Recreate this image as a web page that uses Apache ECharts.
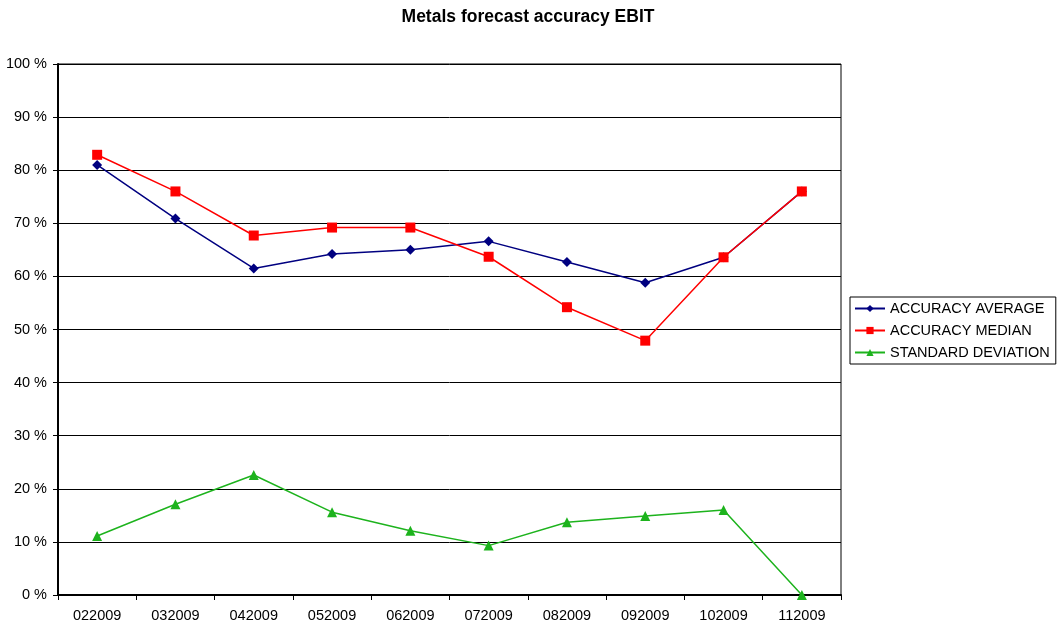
<!DOCTYPE html>
<html>
<head>
<meta charset="utf-8">
<script src="https://cdn.jsdelivr.net/npm/echarts@6/dist/echarts.min.js"></script>
<style>
html, body { margin: 0; padding: 0; background: #fff; }
#chart { width: 1060px; height: 629px; }
</style>
</head>
<body>
<div id="chart"></div>
<script>
// Monthly periods (MMYYYY)
const periods = ['022009', '032009', '042009', '052009', '062009', '072009', '082009', '092009', '102009', '112009'];
// Forecast accuracy figures, in percent
const accuracyAverage = [81.0, 70.9, 61.5, 64.2, 65.0, 66.6, 62.7, 58.8, 63.6, 76.0];
const accuracyMedian = [82.9, 76.0, 67.7, 69.2, 69.2, 63.7, 54.2, 47.9, 63.6, 76.0];
const standardDeviation = [11.1, 17.1, 22.6, 15.6, 12.1, 9.3, 13.7, 14.9, 16.0, 0.0];

const seriesNames = ['ACCURACY AVERAGE', 'ACCURACY MEDIAN', 'STANDARD DEVIATION'];
const font = 'Liberation Sans, Arial, sans-serif';

const chart = echarts.init(document.getElementById('chart'), null, { renderer: 'canvas' });

function lineSeries(name, data, color, symbol, size) {
  return {
    name: name,
    type: 'line',
    data: data,
    symbol: symbol,
    symbolSize: size,
    showAllSymbol: true,
    lineStyle: { color: color, width: 1.5 },
    itemStyle: { color: color },
    emphasis: { disabled: true },
    animation: false
  };
}

chart.setOption({
  animation: false,
  backgroundColor: '#fff',
  title: {
    text: 'Metals forecast accuracy EBIT',
    left: 523,
    textAlign: 'center',
    top: 3,
    textStyle: { fontFamily: font, fontSize: 17.5, fontWeight: 'bold', color: '#000' }
  },
  legend: {
    orient: 'vertical',
    left: 850,
    top: 297,
    itemWidth: 30,
    itemHeight: 9,
    itemGap: 7,
    padding: [4, 6, 4, 4],
    borderColor: '#000',
    borderWidth: 1,
    borderRadius: 0,
    textStyle: { fontFamily: font, fontSize: 14.5, color: '#000' },
    data: seriesNames
  },
  grid: { left: 58, right: 219, top: 64, bottom: 34, show: true, borderColor: '#000', borderWidth: 1 },
  xAxis: {
    type: 'category',
    data: periods,
    boundaryGap: true,
    axisLine: { lineStyle: { color: '#000', width: 2 } },
    axisTick: { show: true, alignWithLabel: false, length: 5, lineStyle: { color: '#000' } },
    axisLabel: { fontFamily: font, fontSize: 14.5, color: '#000', margin: 13 },
    splitLine: { show: false }
  },
  yAxis: {
    type: 'value',
    min: 0,
    max: 100,
    interval: 10,
    axisLine: { show: true, lineStyle: { color: '#000', width: 2 } },
    axisTick: { show: true, length: 5, lineStyle: { color: '#000' } },
    axisLabel: { fontFamily: font, fontSize: 14.5, color: '#000', margin: 11, formatter: '{value} %' },
    splitLine: { show: true, lineStyle: { color: '#000', width: 1 } }
  },
  series: [
    lineSeries(seriesNames[0], accuracyAverage, '#000080', 'diamond', 10),
    lineSeries(seriesNames[1], accuracyMedian, '#FF0000', 'rect', 10),
    lineSeries(seriesNames[2], standardDeviation, '#1DB31D', 'triangle', 10)
  ]
});
</script>
</body>
</html>
